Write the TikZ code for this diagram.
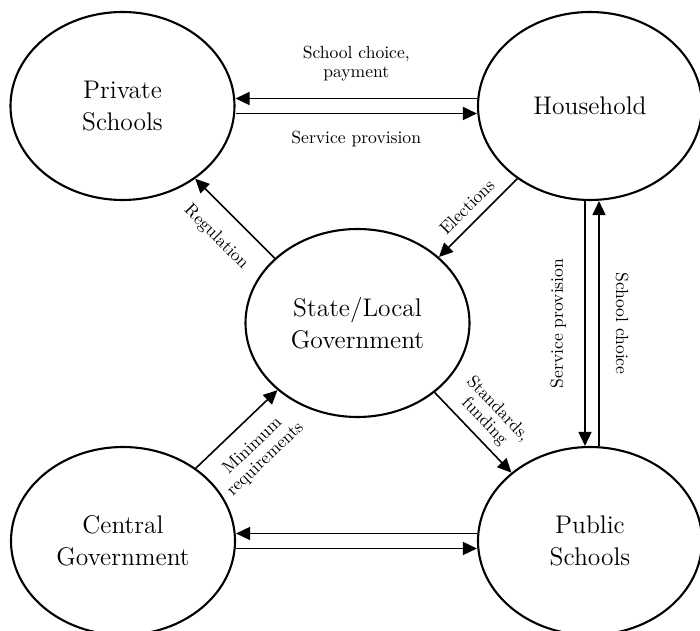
\documentclass[tikz,border=0pt]{standalone}
\usepackage{tikz}
\usetikzlibrary{
    arrows.meta,
    shapes
}

\begin{document}
\begin{tikzpicture}[
        >={Triangle[length=2.8mm, width=2.6mm]},
        actor/.style={draw, ellipse, line width=1.2pt, minimum width=4.48cm, minimum height=3.76cm, align=center, font=\fontsize{14.5}{18.5}\selectfont},
        flow/.style={line width=0.9pt},
        tag/.style={font=\fontsize{10}{10.5}\selectfont, align=center}
    ]
    \useasboundingbox (0, 0) rectangle (14, 12.62);

    \node[actor] (private) at (2.45, 10.5) {Private\\Schools};
    \node[actor] (household) at (11.8, 10.5) {Household};
    \node[actor] (state) at (7.15, 6.16) {State/Local\\Government};
    \node[actor] (central) at (2.46, 1.8) {Central\\Government};
    \node[actor] (public) at (11.8, 1.8) {Public\\Schools};

    \draw[flow, ->] ([yshift=0.15cm]household.west) -- node[tag, above=0.22cm] {School choice,\\payment} ([yshift=0.15cm]private.east);
    \draw[flow, ->] ([yshift=-0.15cm]private.east) -- node[tag, below=0.22cm] {Service provision} ([yshift=-0.15cm]household.west);

    \draw[flow, <-] ([xshift=-0.1cm]public.north) -- node[tag, sloped, above=0.24cm] {Service provision} ([xshift=-0.1cm]household.south);
    \draw[flow, <-] ([xshift=0.18cm]household.south) -- node[tag, sloped, above=0.2cm] {School choice} ([xshift=0.18cm]public.north);

    \draw[flow, ->] (state.142) -- node[tag, sloped, below=0.24cm] {Regulation} (private.-45);
    \draw[flow, ->] (household.225) -- node[tag, sloped, above=0.06cm] {Elections} (state.39);
    \draw[flow, ->] (central.45) -- node[tag, sloped, below=0.18cm] {Minimum\\requirements} (state.220);
    \draw[flow, ->] (state.-42) -- node[tag, sloped, above=0.02cm] {Standards,\\funding} (public.139);

    \draw[flow, ->] ([yshift=-0.15cm]central.east) -- ([yshift=-0.15cm]public.west);
    \draw[flow, ->] ([yshift=0.15cm]public.west) -- ([yshift=0.15cm]central.east);
\end{tikzpicture}
\end{document}
